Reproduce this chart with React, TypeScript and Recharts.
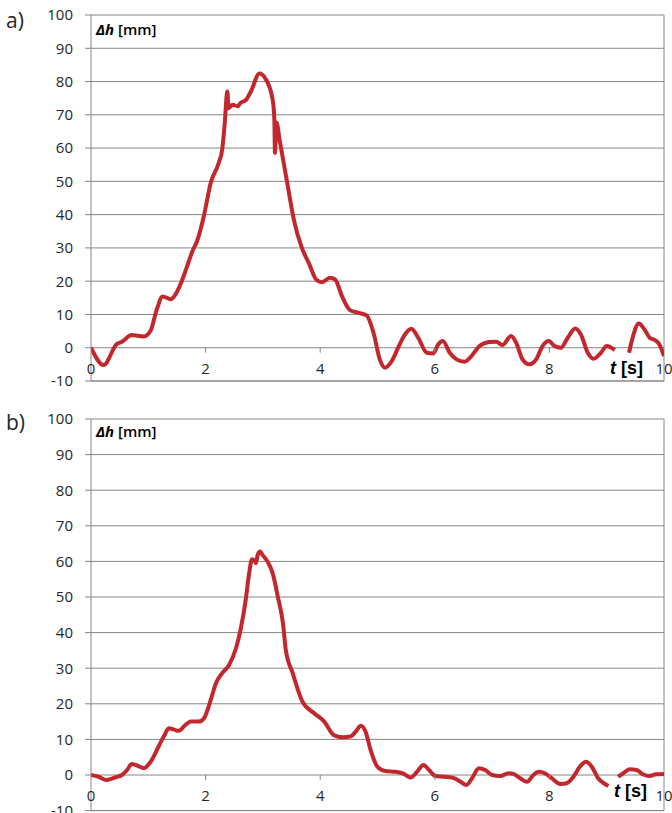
import React from 'react';
import { LineChart, Line, XAxis, YAxis, CartesianGrid, ReferenceLine } from 'recharts';

const timesA = [0, 0.22, 0.45, 0.54, 0.71, 0.92, 1.04, 1.15, 1.25, 1.39, 1.56, 1.68, 1.77, 1.85, 1.97, 2.09, 2.23, 2.29, 2.33, 2.38, 2.4, 2.47, 2.56, 2.61, 2.7, 2.79, 2.94, 3.04, 3.17, 3.2, 3.21, 3.24, 3.29, 3.42, 3.54, 3.68, 3.8, 3.94, 4.03, 4.17, 4.26, 4.38, 4.52, 4.67, 4.81, 4.93, 5.04, 5.13, 5.25, 5.36, 5.48, 5.59, 5.71, 5.86, 5.97, 6.06, 6.14, 6.26, 6.38, 6.52, 6.64, 6.78, 6.95, 7.07, 7.18, 7.33, 7.42, 7.53, 7.65, 7.77, 7.88, 7.99, 8.09, 8.2, 8.32, 8.45, 8.55, 8.67, 8.77, 8.9, 9.0, 9.14, 9.25, 9.39, 9.46, 9.56, 9.66, 9.75, 9.84, 9.92, 10.0];
const valuesA = [0, -5.2, 1.1, 1.8, 3.8, 3.4, 5.1, 11.6, 15.4, 14.6, 19, 24.6, 29, 32, 39.6, 49.6, 55.6, 59.6, 66.6, 77, 72, 73, 72.6, 73.6, 74.4, 77, 82.4, 81, 74.6, 68.6, 58.6, 67.6, 62.6, 50, 38.5, 30, 25.5, 20.3, 19.7, 21, 20.5, 15.5, 11.3, 10.5, 9.7, 4.5, -3.5, -6, -4, 0, 4, 5.7, 3, -1.5, -1.7, 1, 2, -1.5, -3.5, -4.2, -2.5, 0.5, 1.7, 1.8, 0.8, 3.5, 1.5, -3.5, -5, -3.5, 0.5, 2, 0.5, 0, 3, 5.8, 4, -1.5, -3.3, -1.5, 0.5, -0.7, null, -1.5, 3.5, 7.3, 5.5, 3, 2.3, 1, -2.5];

const timesB = [0, 0.13, 0.27, 0.42, 0.54, 0.63, 0.71, 0.83, 0.92, 1.04, 1.18, 1.27, 1.36, 1.44, 1.53, 1.65, 1.74, 1.88, 1.97, 2.09, 2.18, 2.29, 2.41, 2.53, 2.61, 2.7, 2.76, 2.81, 2.85, 2.88, 2.91, 2.95, 2.99, 3.08, 3.17, 3.26, 3.35, 3.4, 3.52, 3.69, 3.9, 4.07, 4.24, 4.39, 4.53, 4.62, 4.71, 4.79, 4.88, 5.0, 5.14, 5.32, 5.46, 5.58, 5.69, 5.8, 5.9, 6.01, 6.16, 6.3, 6.45, 6.55, 6.65, 6.77, 6.88, 7.0, 7.14, 7.29, 7.37, 7.49, 7.61, 7.72, 7.81, 7.92, 8.04, 8.19, 8.3, 8.42, 8.53, 8.64, 8.74, 8.85, 8.94, 9.03, 9.12, 9.2, 9.29, 9.4, 9.52, 9.63, 9.75, 9.86, 10.0];
const valuesB = [0, -0.5, -1.4, -0.7, 0, 1.4, 3.1, 2.5, 1.9, 3.7, 8, 10.8, 13.1, 12.8, 12.4, 14.1, 15, 15, 15.9, 21.1, 25.8, 28.6, 30.9, 35.6, 40.8, 49.2, 56.7, 60.6, 60.3, 59.5, 61.9, 62.8, 61.9, 60, 56.7, 50.1, 42.6, 35.1, 28.6, 20.6, 17.3, 15, 11.2, 10.6, 10.8, 12.2, 13.8, 12.2, 7, 2.3, 1.1, 0.9, 0.3, -0.7, 0.9, 2.8, 1.4, -0.3, -0.5, -0.7, -1.9, -2.8, -0.9, 1.9, 1.4, 0, -0.3, 0.5, 0.3, -0.9, -1.9, 0, 0.9, 0.5, -0.9, -2.5, -2.3, -0.5, 2.3, 3.7, 2.3, -0.9, -2.2, -3.1, null, -0.5, 0.5, 1.6, 1.4, 0.2, -0.3, 0.2, 0.3];

const yTicks = [-10, 0, 10, 20, 30, 40, 50, 60, 70, 80, 90, 100];
const xTicks = [0, 2, 4, 6, 8, 10];

const buildData = (ts: number[], vs: (number | null)[]) => ts.map((t, i) => ({ t, v: vs[i] }));
const dataA = buildData(timesA, valuesA);
const dataB = buildData(timesB, valuesB);

const GRID = '#868686';
const RED = '#C1272D';
const FONT = '"Open Sans", Lato, sans-serif';
const TEXT = '#262626';

function Panel({ data, height, marginBottom }: { data: any[]; height: number; marginBottom: number }) {
  const plotH = height - 15 - marginBottom - 1;
  const zeroOffset = (plotH * 10) / 110;
  const renderTick = (p: any) => {
    const zeroY = p.y - zeroOffset;
    const val = p.payload.value;
    return (
      <g>
        {val !== 0 && val !== 10 ? (
          <line x1={p.x} x2={p.x} y1={zeroY} y2={zeroY + 5} stroke={GRID} />
        ) : null}
        <text x={p.x} y={zeroY + 26} textAnchor="middle" fontSize={15} fill={TEXT} fontFamily={FONT}>
          {val}
        </text>
      </g>
    );
  };
  return (
    <LineChart width={672} height={height} data={data} margin={{ top: 15, right: 8, bottom: marginBottom, left: 0 }}>
      <CartesianGrid vertical={false} stroke={GRID} />
      <XAxis
        dataKey="t"
        type="number"
        domain={[0, 10]}
        ticks={xTicks}
        interval={0}
        height={1}
        tickSize={0}
        tickMargin={0}
        tickLine={false}
        axisLine={{ stroke: GRID }}
        tick={renderTick}
        allowDataOverflow
      />
      <YAxis
        type="number"
        domain={[-10, 100]}
        ticks={yTicks}
        interval={0}
        width={91}
        tickSize={6}
        tickMargin={12}
        axisLine={{ stroke: GRID }}
        tickLine={{ stroke: GRID }}
        tick={{ fontSize: 15, fill: TEXT, fontFamily: FONT }}
      />
      <ReferenceLine x={10} stroke={GRID} />
      <Line
        dataKey="v"
        type="monotone"
        stroke={RED}
        strokeWidth={4}
        dot={false}
        activeDot={false}
        connectNulls={false}
        isAnimationActive={false}
      />
    </LineChart>
  );
}

export default function App() {
  return (
    <div
      style={{
        position: 'absolute',
        left: 0,
        top: 0,
        width: 672,
        height: 813,
        overflow: 'hidden',
        background: '#fff',
        fontFamily: FONT,
      }}
    >
      <div style={{ position: 'absolute', left: 0, top: 0 }}>
        <Panel data={dataA} height={395} marginBottom={13} />
      </div>
      <div style={{ position: 'absolute', left: 0, top: 404 }}>
        <Panel data={dataB} height={420} marginBottom={12.4} />
      </div>
      <svg
        width={672}
        height={813}
        style={{ position: 'absolute', left: 0, top: 0, pointerEvents: 'none' }}
      >
        <text x={6} y={28} fontSize={21} fill={TEXT} fontFamily={FONT}>a)</text>
        <text x={6} y={430} fontSize={21} fill={TEXT} fontFamily={FONT}>b)</text>
        <text x={96} y={35} fontSize={15} fill="#000" fontFamily={FONT}>
          <tspan fontStyle="italic" fontWeight="bold">Δh</tspan>
          <tspan fontWeight="600"> [mm]</tspan>
        </text>
        <text x={96} y={437} fontSize={15} fill="#000" fontFamily={FONT}>
          <tspan fontStyle="italic" fontWeight="bold">Δh</tspan>
          <tspan fontWeight="600"> [mm]</tspan>
        </text>
        <text x={610} y={374} fontSize={18} fontWeight="bold" fill="#000" fontFamily='"Liberation Sans", Arial, sans-serif'>
          <tspan fontStyle="italic">t</tspan>
          <tspan> [s]</tspan>
        </text>
        <text x={614} y={797} fontSize={18} fontWeight="bold" fill="#000" fontFamily='"Liberation Sans", Arial, sans-serif'>
          <tspan fontStyle="italic">t</tspan>
          <tspan> [s]</tspan>
        </text>
      </svg>
    </div>
  );
}
